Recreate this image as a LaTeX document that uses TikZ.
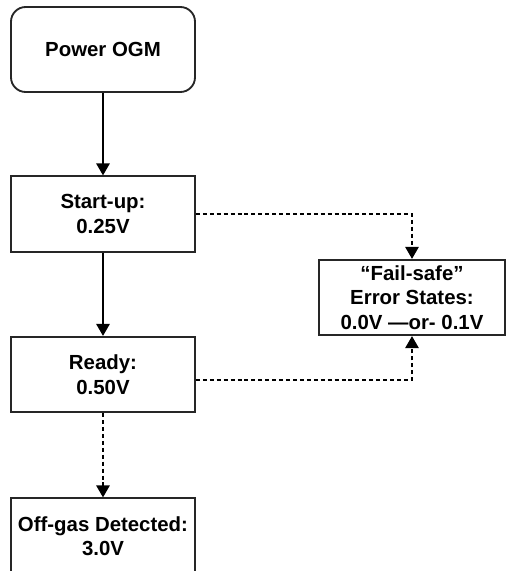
\documentclass[tikz,border=0pt]{standalone}
\usepackage{fontspec}
\setmainfont{Liberation Sans}
\usetikzlibrary{arrows.meta,calc}
\begin{document}
\begin{tikzpicture}[x=0.75pt,y=-0.75pt,
  every node/.style={font=\fontsize{15.3pt}{18.4pt}\selectfont\bfseries, align=center, inner sep=0pt},
  box/.style={draw=black!85, line width=1.4pt, rectangle, minimum width=138pt, minimum height=56.5pt},
  rbox/.style={box, rounded corners=11pt, minimum height=63.75pt},
  conn/.style={line width=1.5pt, -{Triangle[length=9pt,width=10pt]}},
  dconn/.style={conn, line width=1.4pt, dash pattern=on 3pt off 2.2pt}]
\useasboundingbox (0,0) rectangle (507,571);
\clip (0,0) rectangle (507,571);
\node[rbox] (power) at (103,49.5) {Power OGM};
\node[box] (start) at (103,214) {Start-up:\\0.25V};
\node[box] (ready) at (103,374.5) {Ready:\\0.50V};
\node[box] (offgas) at (103,536) {Off-gas Detected:\\3.0V};
\node[box, minimum width=139.5pt] (fail) at (412,297.5) {“Fail-safe”\\Error States:\\0.0V —or- 0.1V};
\draw[conn] (power) -- (start);
\draw[conn] (start) -- (ready);
\draw[dconn] (ready) -- (offgas);
\draw[dconn] (start.east) -| (fail.north);
\draw[dconn] ($(ready.east)+(0,5.5)$) -| (fail.south);
\end{tikzpicture}
\end{document}
